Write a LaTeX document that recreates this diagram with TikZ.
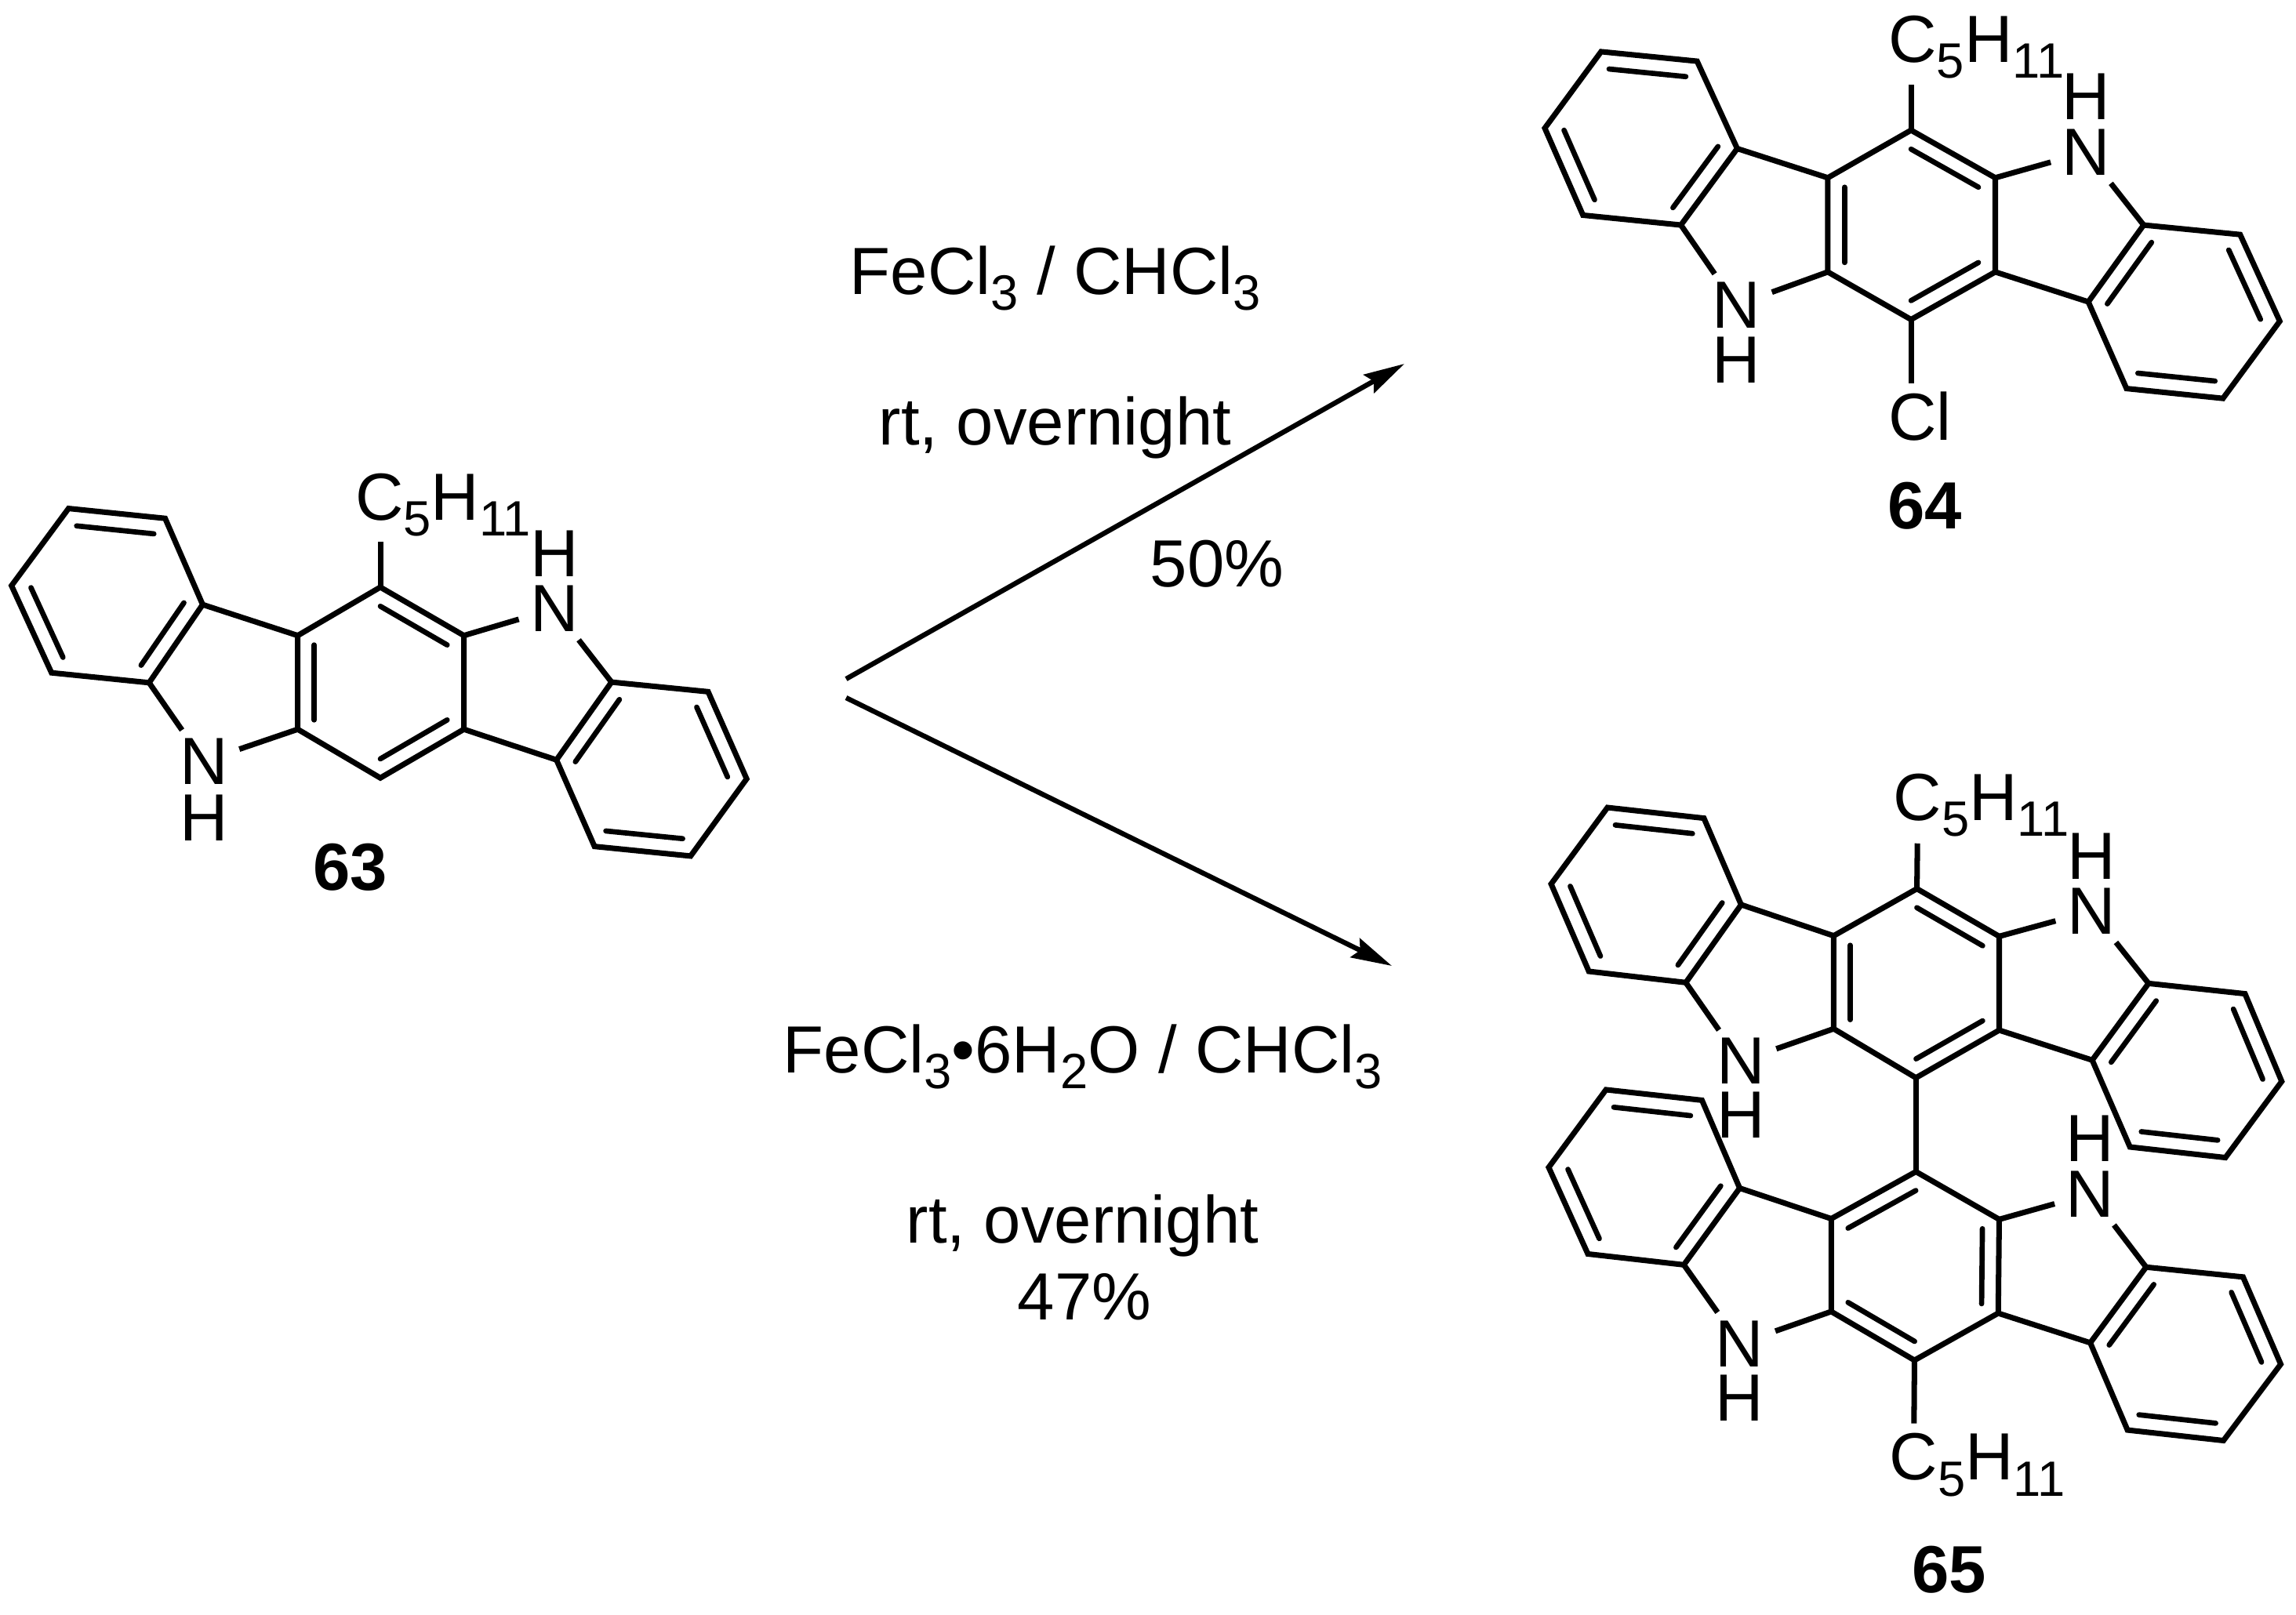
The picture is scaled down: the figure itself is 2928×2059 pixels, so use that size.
\documentclass[tikz,border=0pt]{standalone}
\usepackage{fontspec}
\setmainfont{Liberation Sans}
\usetikzlibrary{arrows.meta,calc}
\newcommand\chemsub[1]{\raisebox{-5.8pt}{\fontsize{18}{18}\selectfont #1}}
\newcommand\alkyl{C\chemsub{5}H\chemsub{11}}
\tikzset{
  bond/.style={line width=2pt,line cap=butt,line join=miter},
  inner bond/.style={line width=1.9pt,line cap=round},
  reaction/.style={line width=1.8pt,-{Stealth[length=14.8pt,width=7.6pt,inset=2pt]}},
  txt/.style={font=\fontsize{24.2}{24.2}\selectfont,inner sep=0pt},
  label/.style={txt,anchor=base west},
  atom/.style={txt,anchor=base,inner xsep=4pt,inner ysep=2.8pt},
  hatom/.style={txt,anchor=base},
  idnum/.style={font=\fontsize{24.2}{24.2}\selectfont\bfseries,inner sep=0pt,anchor=base},
}
% double-bond inner line: #1,#2 bond ends, #3,#4 opposite ring vertices giving the ring centre
\newcommand\dbl[4]{\draw[inner bond]
  ($(#1)!0.2!($(#3)!0.5!(#4)$)$) -- ($(#2)!0.2!($(#3)!0.5!(#4)$)$);}
% skeleton: #1 prefix
\newcommand\skeleton[1]{%
  \draw[bond] (#1l1)--(#1l2)--(#1l3)--(#1l4)--(#1l5)--(#1l6)--cycle;
  \draw[bond] (#1c1)--(#1c2)--(#1c3)--(#1c4)--(#1c5)--(#1c6)--cycle;
  \draw[bond] (#1r1)--(#1r2)--(#1r3)--(#1r4)--(#1r5)--(#1r6)--cycle;
  \draw[bond] (#1l3)--(#1c6) (#1c3)--(#1r6);
  \draw[bond] (#1c2)--(#1Na) (#1Na)--(#1r1) (#1l4)--(#1Nb) (#1Nb)--(#1c5);
  \dbl{#1l1}{#1l2}{#1l1}{#1l4}\dbl{#1l3}{#1l4}{#1l1}{#1l4}\dbl{#1l5}{#1l6}{#1l1}{#1l4}
  \dbl{#1r1}{#1r6}{#1r1}{#1r4}\dbl{#1r2}{#1r3}{#1r1}{#1r4}\dbl{#1r4}{#1r5}{#1r1}{#1r4}
}
% central ring double bonds, pattern A and pattern B
\newcommand\centralA[1]{\dbl{#1c6}{#1c5}{#1c1}{#1c4}\dbl{#1c1}{#1c2}{#1c1}{#1c4}\dbl{#1c3}{#1c4}{#1c1}{#1c4}}
\newcommand\centralB[1]{\dbl{#1c6}{#1c1}{#1c1}{#1c4}\dbl{#1c2}{#1c3}{#1c1}{#1c4}\dbl{#1c4}{#1c5}{#1c1}{#1c4}}
\begin{document}
\begin{tikzpicture}[x=0.01cm,y=-0.01cm]
\path[use as bounding box,fill=white] (0,0) rectangle (2928,2059);

% ---------- 63
\begin{scope}[shift={(0,570)},x=0.0063776cm,y=-0.0038265cm]
\foreach \n/\x/\y in {l1/137/205,l2/330/238,l3/405/525,l4/298/785,l5/103/752,l6/23/462,
  c1/760/467,c2/927/628,c3/927/940,c4/760/1102,c5/595/940,c6/595/628,
  r1/1222/783,r2/1415/815,r3/1492/1105,r4/1380/1362,r5/1188/1330,r6/1112/1042,t/760/315}
  \coordinate (a\n) at (\x,\y);
\node[atom] (aNa) at (1108,615) {N};
\node[hatom] (aHa) at (1108,432) {H};
\node[atom] (aNb) at (407,1123) {N};
\node[hatom] (aHb) at (407,1310) {H};
\node[label] (aR) at (709,243) {\alkyl};
\node[idnum] (aId) at (700,1475) {63};
\skeleton{a}\centralA{a}
\draw[bond] (ac1)--(at);
\end{scope}

% ---------- 64
\begin{scope}[shift={(1950,0)},x=0.0062372cm,y=-0.0043367cm]
\foreach \n/\x/\y in {l1/147/152,l2/343/180,l3/425/437,l4/310/662,l5/110/633,l6/32/377,
  c1/780/383,c2/952/523,c3/952/800,c4/780/940,c5/610/800,c6/610/523,
  r1/1255/662,r2/1452/690,r3/1533/945,r4/1417/1172,r5/1220/1143,r6/1142/888,t/780/250,u/780/1128}
  \coordinate (b\n) at (\x,\y);
\node[atom] (bNa) at (1138,515) {N};
\node[hatom] (bHa) at (1138,352) {H};
\node[atom] (bNb) at (423,965) {N};
\node[hatom] (bHb) at (423,1127) {H};
\node[label] (bR) at (733,183) {\alkyl};
\node[label] (bCl) at (733,1295) {Cl};
\node[idnum] (bId) at (808,1555) {64};
\skeleton{b}\centralA{b}
\draw[bond] (bc1)--(bt);
\draw[bond] (bc4)--(bu);
\end{scope}

% ---------- 65 upper half
\begin{scope}[shift={(1950,980)},x=0.0062372cm,y=-0.0035714cm]
\foreach \n/\x/\y in {l1/160/140,l2/357/178,l3/433/487,l4/320/765,l5/122/725,l6/45/413,
  c1/792/430,c2/960/600,c3/960/935,c4/790/1105,c5/622/930,c6/622/598,
  r1/1265/768,r2/1462/805,r3/1537/1118,r4/1422/1390,r5/1227/1352,r6/1150/1042,t/793/268}
  \coordinate (c\n) at (\x,\y);
\node[atom] (cNa) at (1148,592) {N};
\node[hatom] (cHa) at (1148,397) {H};
\node[atom] (cNb) at (432,1128) {N};
\node[hatom] (cHb) at (432,1320) {H};
\node[label] (cR) at (743,185) {\alkyl};
\skeleton{c}\centralA{c}
\draw[bond] (cc1)--(ct);
\end{scope}

% ---------- 65 lower half
\begin{scope}[shift={(1950,1400)},x=0.0062372cm,y=-0.0042028cm]
\foreach \n/\x/\y in {l1/157/-24,l2/353/8,l3/430/275,l4/316/508,l5/120/475,l6/40/212,
  c1/790/225,c2/960/370,c3/958/655,c4/787/798,c5/617/650,c6/617/368,
  r1/1260/515,r2/1458/545,r3/1535/810,r4/1418/1042,r5/1222/1010,r6/1146/745,t/786/990}
  \coordinate (d\n) at (\x,\y);
\node[atom] (dNa) at (1146,362) {N};
\node[hatom] (dHa) at (1146,195) {H};
\node[atom] (dNb) at (430,817) {N};
\node[hatom] (dHb) at (430,983) {H};
\node[label] (dR) at (735,1162) {\alkyl};
\node[idnum] (dId) at (858,1505) {65};
\skeleton{d}\centralB{d}
\draw[bond] (dc4)--(dt);
\end{scope}
\draw[bond] (cc4)--(dc1);

% ---------- reaction arrows
\coordinate (start1) at (1079,866);
\coordinate (end1) at (1791,464);
\coordinate (start2) at (1079,890);
\coordinate (end2) at (1775,1232);
\draw[reaction] (start1)--(end1);
\draw[reaction] (start2)--(end2);

% ---------- conditions
\node[label] (t1) at (1083,375) {FeCl\chemsub{3} / CHCl\chemsub{3}};
\node[label] (t2) at (1120,567) {rt, overnight};
\node[label] (t3) at (1466,748) {50\%};
\node[label] (t4) at (998,1368) {FeCl\chemsub{3}•6H\chemsub{2}O / CHCl\chemsub{3}};
\node[label] (t5) at (1155,1585) {rt, overnight};
\node[label] (t6) at (1297,1683) {47\%};
\end{tikzpicture}
\end{document}
